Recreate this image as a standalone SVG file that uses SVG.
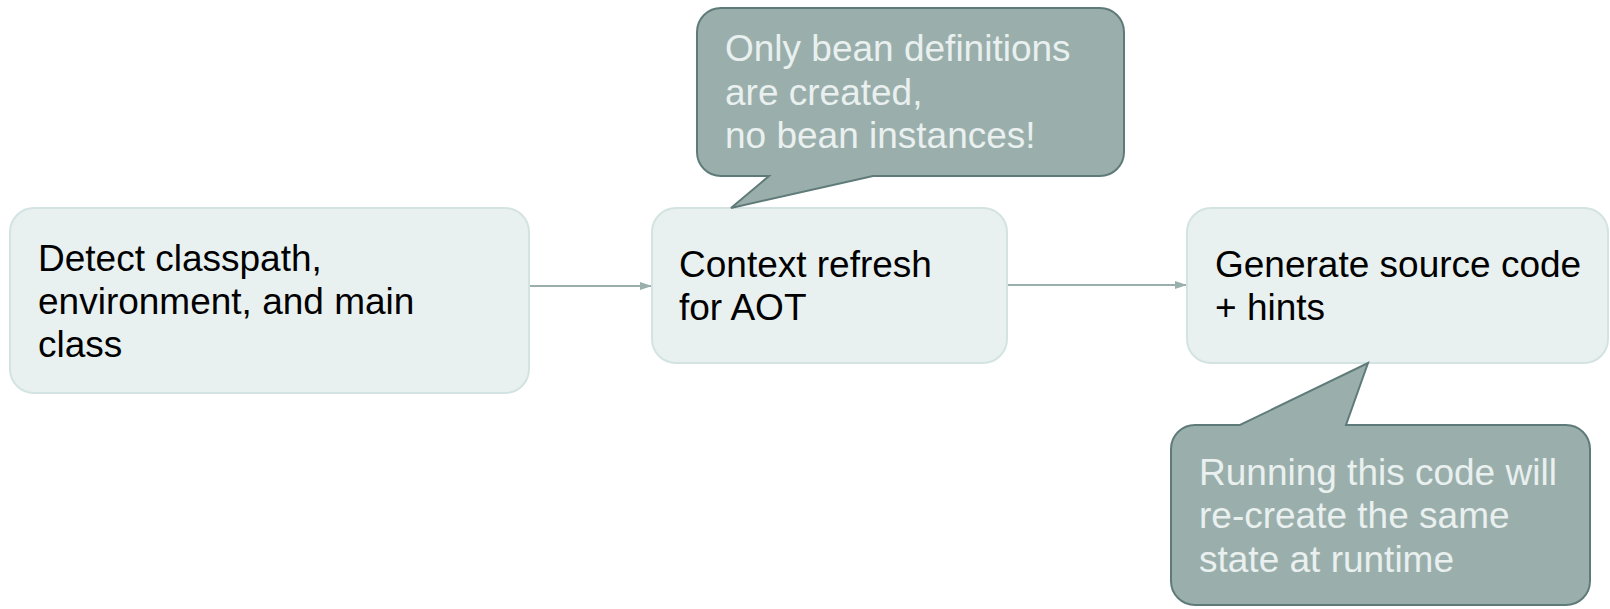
<svg xmlns="http://www.w3.org/2000/svg" width="1610" height="609" viewBox="0 0 1610 609">
<defs>
<style>
.box{fill:#e8f1f0;stroke:#d3e3e2;stroke-width:2}
.call{fill:#9aafab;stroke:#5f7b79;stroke-width:2;stroke-linejoin:miter}
.t{font-family:"Liberation Sans",Arial,sans-serif;font-size:37px;fill:#000}
.ct{font-family:"Liberation Sans",Arial,sans-serif;font-size:37px;fill:#e9f0ef}
.edge{stroke:#9aafab;stroke-width:2;fill:none}
</style>
<marker id="ah" viewBox="0 0 12 8" refX="12" refY="4" markerWidth="12" markerHeight="8" markerUnits="userSpaceOnUse" orient="auto">
<path d="M0,0 L12,4 L0,8 Z" fill="#9aafab"/>
</marker>
</defs>
<rect width="1610" height="609" fill="#ffffff"/>
<g id="connectors">
<line class="edge" x1="530" y1="286" x2="652" y2="286" marker-end="url(#ah)"/>
<line class="edge" x1="1008" y1="285" x2="1187" y2="285" marker-end="url(#ah)"/>
</g>
<g id="node-detect">
<rect class="box" x="10" y="208" width="519" height="185" rx="24" ry="24"/>
<text class="t" x="38"><tspan x="38" y="271">Detect classpath,</tspan><tspan x="38" y="314">environment, and main</tspan><tspan x="38" y="357">class</tspan></text>
</g>
<g id="node-refresh">
<rect class="box" x="652" y="208" width="355" height="155" rx="24" ry="24"/>
<text class="t"><tspan x="679" y="277">Context refresh</tspan><tspan x="679" y="320">for AOT</tspan></text>
</g>
<g id="node-generate">
<rect class="box" x="1187" y="208" width="421" height="155" rx="24" ry="24"/>
<text class="t"><tspan x="1215" y="277">Generate source code</tspan><tspan x="1215" y="320">+ hints</tspan></text>
</g>
<g id="callout-beans">
<path class="call" d="M721,8 H1100 A24,24 0 0 1 1124,32 V152 A24,24 0 0 1 1100,176 H873 L731,208 L769,176 H721 A24,24 0 0 1 697,152 V32 A24,24 0 0 1 721,8 Z"/>
<text class="ct"><tspan x="725" y="61">Only bean definitions</tspan><tspan x="725" y="105">are created,</tspan><tspan x="725" y="148">no bean instances!</tspan></text>
</g>
<g id="callout-runtime">
<path class="call" d="M1195,425 H1240 L1368,363 L1346,425 H1566 A24,24 0 0 1 1590,449 V581 A24,24 0 0 1 1566,605 H1195 A24,24 0 0 1 1171,581 V449 A24,24 0 0 1 1195,425 Z"/>
<text class="ct"><tspan x="1199" y="485">Running this code will</tspan><tspan x="1199" y="528">re-create the same</tspan><tspan x="1199" y="572">state at runtime</tspan></text>
</g>
</svg>
